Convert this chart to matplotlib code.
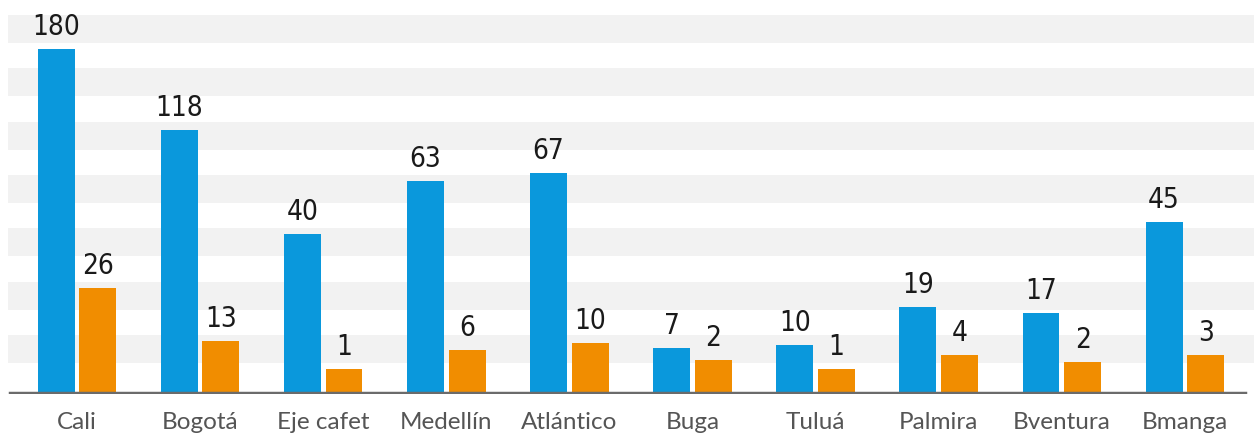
import matplotlib.pyplot as plt
import numpy as np

# categories and labels as printed on the chart
cities = ['Cali', 'Bogotá', 'Eje cafet', 'Medellín', 'Atlántico',
          'Buga', 'Tuluá', 'Palmira', 'Bventura', 'Bmanga']
blue_labels = [180, 118, 40, 63, 67, 7, 10, 19, 17, 45]
orange_labels = [26, 13, 1, 6, 10, 2, 1, 4, 2, 3]

# bar heights as drawn (the graphic is not to scale)
blue_heights = [345, 264, 159, 213, 221, 45, 48, 86, 80, 171]
orange_heights = [105, 52, 24, 43, 50, 33, 24, 38, 31, 38]

blue = '#0a98dc'
orange = '#f18d00'

fig = plt.figure(figsize=(12.54, 4.33), dpi=100)
ax = fig.add_axes([0, 39 / 433, 1, 394 / 433])

x = np.arange(len(cities))
w = 0.30
off = 0.169

# light striped background
for k in range(7):
    lo = 30 + k * 53.5
    ax.axhspan(lo, lo + 28, xmin=8 / 1254, xmax=1, color='#f2f2f2', zorder=0, lw=0)

ax.bar(x - off, blue_heights, w, color=blue, zorder=2)
ax.bar(x + off, orange_heights, w, color=orange, zorder=2)

num_font = dict(family='DejaVu Sans', stretch='condensed', weight='light',
                fontsize=20, color='#1a1a1a', ha='center', va='bottom')
for i in range(len(cities)):
    ax.text(x[i] - off, blue_heights[i] + 8, str(blue_labels[i]), **num_font)
    ax.text(x[i] + off, orange_heights[i] + 8, str(orange_labels[i]), **num_font)

ax.axhline(0, xmin=10 / 1254, xmax=1245 / 1254, color='#6b6b6b', lw=2.5, zorder=3)

ax.set_xlim(-77 / 123.1, (1254 - 77) / 123.1)
ax.set_ylim(-1, 394)
ax.set_xticks(x)
ax.set_xticklabels(cities, fontsize=17.5, color='#555555', family='Lato')
ax.tick_params(axis='x', length=0, pad=13)
ax.set_yticks([])
for s in ax.spines.values():
    s.set_visible(False)
ax.patch.set_alpha(0)

fig.savefig('out.png', dpi=100)
